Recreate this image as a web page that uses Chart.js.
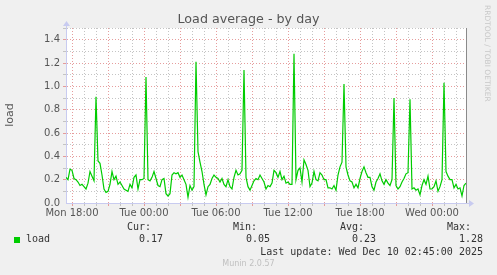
<!DOCTYPE html>
<html>
<head>
<meta charset="utf-8">
<script src="https://cdn.jsdelivr.net/npm/chart.js@4.4.1/dist/chart.umd.min.js"></script>
<style>
html, body { margin:0; padding:0; background:#f0f0f0; }
#wrap { position:relative; width:497px; height:275px; overflow:hidden; font-family:'DejaVu Sans', sans-serif; }
#wrap canvas { position:absolute; left:0; top:0; }
.t { position:absolute; white-space:nowrap; }
.mono { font-family:'DejaVu Sans Mono', monospace; font-size:10px; line-height:12px; color:#333; }
</style>
</head>
<body>
<div id="wrap">
  <canvas id="loadChart" width="497" height="275"></canvas>
  <div class="t" style="left:0;width:497px;top:11px;text-align:center;font-size:12.7px;line-height:16px;color:#555">Load average - by day</div>
  <div class="t" style="left:-20px;top:108px;width:60px;text-align:center;font-size:11px;line-height:14px;color:#555;transform:rotate(-90deg)">load</div>
  <div class="t" style="left:483px;top:5px;writing-mode:vertical-rl;font-size:7.5px;color:#c8c8c8">RRDTOOL / TOBI OETIKER</div>

  <div class="t mono" style="left:127px;top:221px">Cur:</div>
  <div class="t mono" style="left:233px;top:221px">Min:</div>
  <div class="t mono" style="left:340px;top:221px">Avg:</div>
  <div class="t mono" style="left:447px;top:221px">Max:</div>
  <div class="t" style="left:14px;top:237px;width:6px;height:6px;background:#00cc00"></div>
  <div class="t mono" style="left:26px;top:233px" id="serie-name"></div>
  <div class="t mono" style="right:334px;top:233px" id="v-cur"></div>
  <div class="t mono" style="right:227px;top:233px" id="v-min"></div>
  <div class="t mono" style="right:121px;top:233px" id="v-avg"></div>
  <div class="t mono" style="right:14px;top:233px" id="v-max"></div>
  <div class="t mono" style="right:14px;top:246px">Last update: Wed Dec 10 02:45:00 2025</div>
  <div class="t" style="left:0;width:497px;top:259px;text-align:center;font-size:8px;line-height:10px;color:#c0c0c0">Munin 2.0.57</div>
</div>

<script>
/* Munin "load - by day" */

const TIME_LABELS = ['Mon 18:00','Tue 00:00','Tue 06:00','Tue 12:00','Tue 18:00','Wed 00:00'];
const START_HOUR  = -0.5;   // Mon 17:30, hours relative to Mon 18:00
const END_HOUR    = 32.8333;
const STEP_MIN    = 10;
const SERIE_NAME  = 'load';
const STATS       = ['0.17','0.05','0.23','1.28'];   // cur, min, avg, max

const LOAD = [
  0.22,0.20,0.29,0.28,0.21,0.20,0.18,0.15,0.16,0.14,
  0.12,0.17,0.27,0.23,0.19,0.91,0.36,0.34,0.24,0.12,
  0.09,0.10,0.16,0.27,0.20,0.23,0.16,0.18,0.15,0.12,
  0.11,0.10,0.16,0.13,0.22,0.24,0.12,0.20,0.20,0.21,
  1.08,0.20,0.19,0.22,0.27,0.21,0.15,0.14,0.20,0.21,
  0.08,0.06,0.08,0.24,0.26,0.25,0.26,0.22,0.24,0.20,
  0.16,0.05,0.15,0.11,0.14,1.21,0.44,0.35,0.27,0.16,
  0.07,0.14,0.16,0.21,0.24,0.22,0.21,0.18,0.21,0.16,
  0.14,0.20,0.14,0.12,0.22,0.28,0.24,0.25,0.28,1.14,
  0.22,0.14,0.11,0.15,0.19,0.21,0.20,0.24,0.21,0.18,
  0.12,0.15,0.14,0.17,0.28,0.26,0.22,0.27,0.20,0.23,
  0.17,0.18,0.16,0.16,1.28,0.20,0.28,0.30,0.18,0.37,
  0.33,0.28,0.14,0.17,0.27,0.20,0.19,0.26,0.24,0.20,
  0.20,0.13,0.13,0.12,0.15,0.11,0.24,0.31,0.35,1.02,
  0.31,0.24,0.19,0.18,0.13,0.16,0.13,0.21,0.27,0.31,
  0.26,0.22,0.22,0.14,0.11,0.18,0.21,0.25,0.19,0.16,
  0.20,0.17,0.15,0.20,0.90,0.15,0.12,0.14,0.18,0.21,
  0.25,0.26,0.89,0.12,0.13,0.11,0.12,0.07,0.15,0.20,
  0.16,0.23,0.12,0.12,0.14,0.19,0.10,0.14,0.20,1.03,
  0.27,0.23,0.20,0.20,0.13,0.16,0.12,0.13,0.06,0.15,
  0.17
];

const MAJOR = 'rgba(226,140,140,0.85)';
const MINOR = 'rgba(190,190,190,0.9)';
const AXIS  = '#c8cbf0';

const framePlugin = {
  id: 'frame',
  beforeDraw(chart) {
    const { ctx, chartArea: a } = chart;
    ctx.save();
    ctx.fillStyle = '#ffffff';
    ctx.fillRect(a.left, a.top, a.right - a.left, a.bottom - a.top);
    ctx.restore();
  },
  afterDraw(chart) {
    const { ctx, chartArea: a } = chart;
    ctx.save();
    // right edge rule
    ctx.strokeStyle = '#8a8a8a';
    ctx.lineWidth = 1;
    ctx.beginPath();
    ctx.moveTo(a.right + 0.5, a.top);
    ctx.lineTo(a.right + 0.5, a.bottom);
    ctx.stroke();
    // axis extensions + arrows
    ctx.strokeStyle = AXIS;
    ctx.fillStyle = AXIS;
    ctx.beginPath();
    ctx.moveTo(a.left + 0.5, a.top);
    ctx.lineTo(a.left + 0.5, a.top - 3);
    ctx.moveTo(a.right, a.bottom + 0.5);
    ctx.lineTo(a.right + 4, a.bottom + 0.5);
    ctx.stroke();
    ctx.beginPath();
    ctx.moveTo(a.left + 0.5, a.top - 7);
    ctx.lineTo(a.left - 3, a.top - 2);
    ctx.lineTo(a.left + 4, a.top - 2);
    ctx.closePath();
    ctx.fill();
    ctx.beginPath();
    ctx.moveTo(a.right + 8, a.bottom + 0.5);
    ctx.lineTo(a.right + 3, a.bottom - 3);
    ctx.lineTo(a.right + 3, a.bottom + 4);
    ctx.closePath();
    ctx.fill();
    ctx.restore();
  }
};

function buildLoadChart() {
  const ctx = document.getElementById('loadChart').getContext('2d');
  const pts = LOAD.map((v, i) => ({ x: START_HOUR + i * STEP_MIN / 60, y: v }));
  new Chart(ctx, {
    type: 'line',
    data: { datasets: [{ label: SERIE_NAME, data: pts, borderColor: '#00cc00', borderWidth: 1.2, pointRadius: 0, tension: 0, fill: false }] },
    options: {
      responsive: false, animation: false, events: [],
      layout: { padding: { top: 28, right: 31, bottom: 52, left: 0 } },
      plugins: { legend: { display: false }, tooltip: { enabled: false } },
      scales: {
        x: {
          type: 'linear', min: START_HOUR, max: END_HOUR,
          afterBuildTicks: s => { s.ticks = Array.from({ length: 33 }, (_, h) => ({ value: h })); },
          afterFit: s => { s.height = 20; },
          ticks: { autoSkip: false, maxRotation: 0, padding: 1, color: '#555', font: { family: 'DejaVu Sans', size: 10 },
                   callback: v => (v % 6 === 0 ? TIME_LABELS[v / 6] : '') },
          grid: { color: c => (c.tick && c.tick.value % 3 === 0 ? MAJOR : MINOR), tickLength: 3, lineWidth: 1 },
          border: { color: AXIS, dash: [1, 2] }
        },
        y: {
          min: 0, max: 1.5,
          afterBuildTicks: s => { s.ticks = Array.from({ length: 16 }, (_, k) => ({ value: k / 10 })); },
          afterFit: s => { s.width = 66; },
          ticks: { autoSkip: false, padding: 3, color: '#555', font: { family: 'DejaVu Sans', size: 10 },
                   callback: v => (Math.round(v * 10) % 2 === 0 && v < 1.45 ? v.toFixed(1) : '') },
          grid: {
            color: c => {
              const k = Math.round(c.tick.value * 10);
              if (k === 0) return 'rgba(0,0,0,0)';
              return k % 2 === 0 && k < 15 ? MAJOR : MINOR;
            },
            tickLength: 3, lineWidth: 1
          },
          border: { color: AXIS, dash: [1, 2] }
        }
      }
    },
    plugins: [framePlugin]
  });
}

window.addEventListener('DOMContentLoaded', () => {
  document.getElementById('serie-name').textContent = SERIE_NAME;
  ['v-cur','v-min','v-avg','v-max'].forEach((id, i) => { document.getElementById(id).textContent = STATS[i]; });
  buildLoadChart();
});
</script>
</body>
</html>
